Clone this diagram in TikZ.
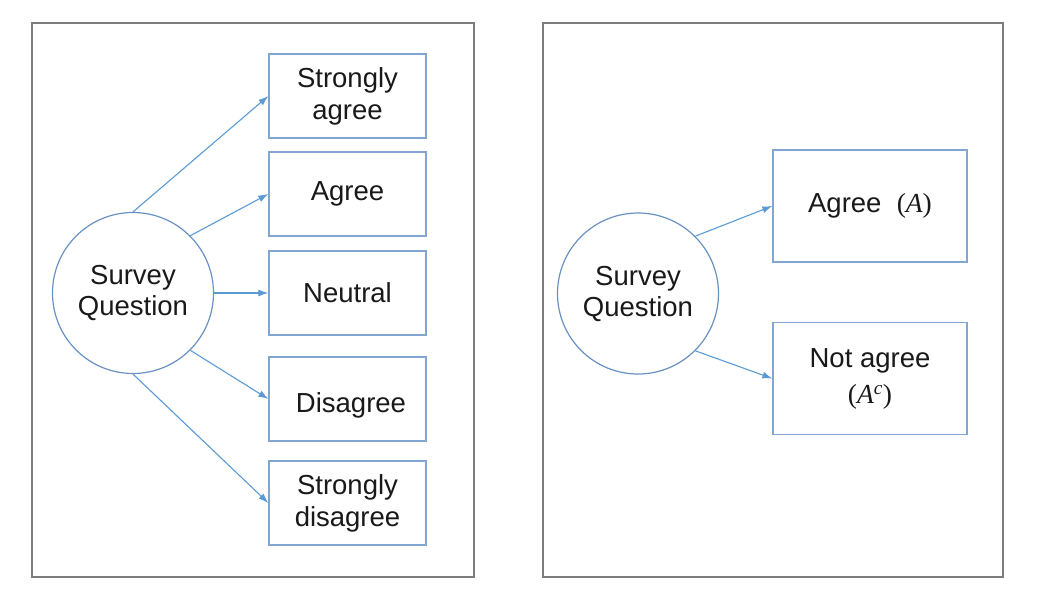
\documentclass[tikz,border=0pt]{standalone}
\usepackage{fontspec}
\setmainfont{Liberation Sans}
\newfontfamily\mathserif{Liberation Serif}
\usetikzlibrary{arrows.meta}
\definecolor{framegray}{RGB}{125,125,125}
\definecolor{boxblue}{RGB}{130,165,210}
\definecolor{ringblue}{RGB}{105,145,195}
\definecolor{arrowblue}{RGB}{91,155,213}
\definecolor{ink}{RGB}{25,25,25}
\newcommand{\mvar}[1]{{\mathserif\itshape #1}}
\newcommand{\mpar}[1]{{\mathserif #1}}
\begin{document}
\begin{tikzpicture}[x=1pt,y=-1pt,
  panel/.style={draw=framegray,line width=2pt},
  question/.style={circle,draw=ringblue,line width=1.2pt,minimum size=161pt,inner sep=0pt,
    align=center,text=ink,font=\fontsize{27.5}{31}\selectfont},
  option/.style={rectangle,draw=boxblue,line width=1.3pt,minimum width=157pt,minimum height=84pt,
    inner sep=0pt,align=center,text=ink,font=\fontsize{27.5}{32}\selectfont},
  choice/.style={rectangle,draw=boxblue,line width=1.3pt,minimum width=194pt,minimum height=112pt,
    inner sep=0pt,align=center,text=ink,font=\fontsize{27.5}{33}\selectfont},
  link/.style={draw=arrowblue,line width=1.1pt,-{Latex[length=10pt,width=7pt]}}]
\useasboundingbox (0,0) rectangle (1038,600);
\fill[white] (0,0) rectangle (1038,600);

% panel frames
\draw[panel] (32,23) rectangle (474,577);
\draw[panel] (543,23) rectangle (1003,577);

% five-point scale
\node[question] (q1) at (133,293) {Survey\\Question};
\node[option] (sa) at (347.5,96) {Strongly\\agree};
\node[option] (ag) at (347.5,194) {Agree};
\node[option] (ne) at (347.5,293) {Neutral};
\node[option] (di) at (347.5,399) {};
\node[text=ink,font=\fontsize{27.5}{32}\selectfont] (dit) at (351,405) {Disagree};
\node[option] (sd) at (347.5,503) {Strongly\\disagree};

\draw[link] (q1.90) -- (sa.west);
\draw[link] (q1.45) -- (ag.west);
\draw[link] (q1.0) -- (ne.west);
\draw[link] (q1.-45) -- (di.west);
\draw[link] (q1.-90) -- (sd.west);

% two-point scale
\node[question] (q2) at (638,293.5) {Survey\\Question};
\node[choice] (a) at (870,206) {Agree\ \ \mpar{(}\mvar{A}\mpar{)}};
\node[choice] (na) at (870,378.5) {Not agree\\[3pt]\mpar{(}\mvar{A}\textsuperscript{\mvar{c}}\mpar{)}};

\draw[link] (q2.45) -- (a.west);
\draw[link] (q2.-45) -- (na.west);
\end{tikzpicture}
\end{document}
